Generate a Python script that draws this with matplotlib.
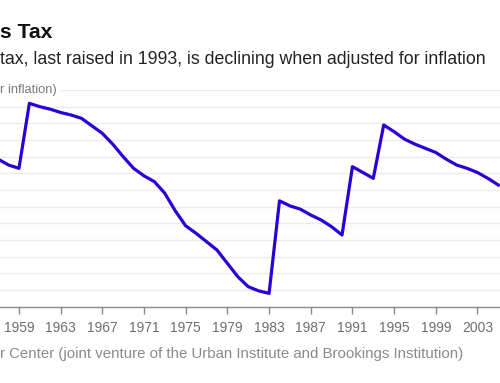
import matplotlib
matplotlib.use("Agg")
import matplotlib.pyplot as plt
from matplotlib.ticker import MultipleLocator

plt.rcParams['font.family'] = ['Liberation Sans', 'DejaVu Sans']

# ---- data (cents per gallon, adjusted for inflation) ----
years = list(range(1957, 2006))
values = [25.7, 25.0, 24.6, 32.4, 32.0, 31.7, 31.3, 31.0, 30.6, 29.7,
          28.8, 27.5, 26.0, 24.6, 23.7, 23.0, 21.6, 19.5, 17.7, 16.8,
          15.8, 14.8, 13.2, 11.6, 10.4, 9.9, 9.6, 20.7, 20.1, 19.7,
          19.0, 18.4, 17.6, 16.6, 24.8, 24.1, 23.4, 29.8, 29.0, 28.1,
          27.5, 27.0, 26.5, 25.7, 25.0, 24.6, 24.1, 23.4, 22.6]
tick_years = list(range(1959, 2004, 4))

# visible parts of the texts in the (cropped) reference
title = "s Tax"
subtitle = "tax, last raised in 1993, is declining when adjusted for inflation"
ylabel = "r inflation)"
source = "r Center (joint venture of the Urban Institute and Brookings Institution)"

W, H = 500, 383
fig = plt.figure(figsize=(5.0, 3.83), dpi=100)
fig.patch.set_facecolor('white')

ax = fig.add_axes([0.0, (H - 306.7) / H, 1.0, (306.7 - 90) / H])
ax.plot(years, values, color='#2b00d6', lw=2.3, solid_joinstyle='round', zorder=3)

ax.set_xticks(tick_years)
ax.set_xticklabels([str(y) for y in tick_years])
ax.set_xlim(1957.18, 2005.16)
ax.set_ylim(8, 34)
ax.yaxis.set_major_locator(MultipleLocator(2))
ax.tick_params(axis='x', direction='out', length=5, width=1, color='#8c8c8c',
               labelsize=10, labelcolor='#6e6e6e', pad=5)
ax.tick_params(axis='y', left=False, labelleft=False)
for s in ['left', 'right', 'top']:
    ax.spines[s].set_visible(False)
ax.spines['bottom'].set_color('#8c8c8c')
ax.spines['bottom'].set_linewidth(1.0)
ax.grid(axis='y', color='#ebebeb', lw=1.0)
ax.set_axisbelow(True)
ax.patch.set_alpha(0)

renderer = fig.canvas.get_renderer()


def fitted_text(x0, x1, yc, s, size, **kw):
    t = fig.text(x0 / W, (H - yc) / H, s, ha='left', va='center', fontsize=size, **kw)
    w = t.get_window_extent(renderer=renderer).width
    t.set_fontsize(size * (x1 - x0) / w)
    return t


fitted_text(0.5, 57, 90, ylabel, 8.5, color='#7a7a7a',
            bbox=dict(facecolor='white', edgecolor='none', pad=2.5))
fitted_text(0.5, 53, 33, title, 15, fontweight='bold', color='#111111')
fitted_text(0.5, 488, 60, subtitle, 12, color='#222222')
fitted_text(0.5, 465, 354, source, 10, color='#8a8a8a')

fig.savefig('out.png', dpi=100)
